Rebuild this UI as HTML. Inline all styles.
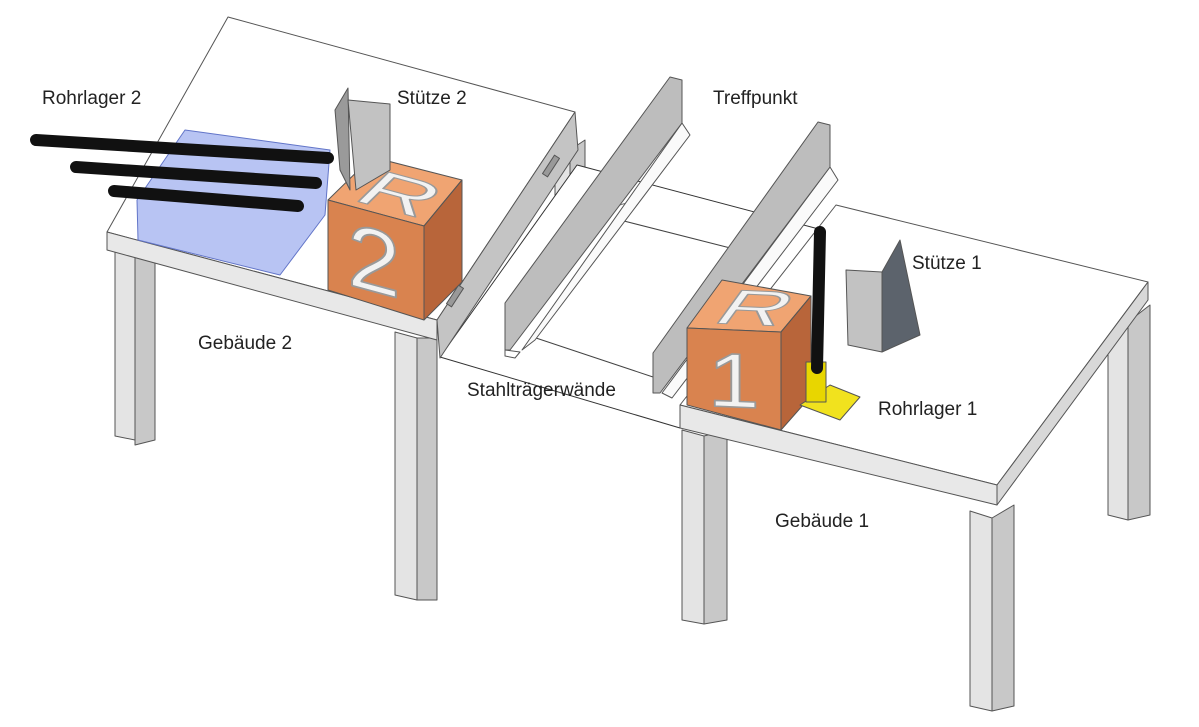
<!DOCTYPE html>
<html><head><meta charset="utf-8"><style>
html,body{margin:0;padding:0;background:#fff;width:1199px;height:727px;overflow:hidden}
svg{display:block}
text{font-family:"Liberation Sans",sans-serif;font-size:19px;fill:#222}
.big{font-size:100px;fill:#f2f2f2;stroke:#999;stroke-width:2}
</style></head><body>
<svg width="1199" height="727" viewBox="0 0 1199 727" xmlns="http://www.w3.org/2000/svg" stroke-linejoin="round">
<g stroke="#555" stroke-width="1">
<!-- Table 2 legs -->
<polygon points="115,250 135,255 135,440 115,436" fill="#e4e4e4"/>
<polygon points="135,255 155,250 155,440 135,445" fill="#c8c8c8"/>
<polygon points="555,150 570,150 570,345 555,348" fill="#e4e4e4"/>
<polygon points="570,150 585,140 585,340 570,345" fill="#c8c8c8"/>
<polygon points="395,332 417,338 417,600 395,595" fill="#e4e4e4"/>
<polygon points="417,338 437,338 437,600 417,600" fill="#c8c8c8"/>
<!-- bridge plate -->
<polygon points="440,357 577,165 830,232 690,410 680,428" fill="#fff" stroke="#333"/>
<polyline points="620,220 533,337 653,377" fill="none" stroke="#444"/>
<line x1="620" y1="220" x2="750" y2="253" stroke="#444"/>
<polyline points="600,178 585,215 630,202" fill="none" stroke="#777"/>
<!-- table 2 top -->
<polygon points="228,17 575,112 437,320 107,232" fill="#fff"/>
<polygon points="107,232 437,320 437,340 107,250" fill="#e8e8e8"/>
<polygon points="437,320 575,112 578,150 440,358" fill="#c4c4c4"/>
<rect x="452" y="285" width="6" height="22" fill="#999" transform="rotate(33 455 296)"/>
<rect x="548" y="155" width="6" height="22" fill="#999" transform="rotate(33 551 166)"/>
<!-- Table 1 legs -->
<polygon points="682,430 704,436 704,624 682,620" fill="#e4e4e4"/>
<polygon points="704,436 727,430 727,620 704,624" fill="#c8c8c8"/>
<polygon points="1108,315 1128,322 1128,520 1108,515" fill="#e4e4e4"/>
<polygon points="1128,322 1150,305 1150,515 1128,520" fill="#c8c8c8"/>
<polygon points="970,511 992,518 992,711 970,706" fill="#e4e4e4"/>
<polygon points="992,518 1014,505 1014,706 992,711" fill="#c8c8c8"/>
<!-- table 1 top -->
<polygon points="836,205 1148,282 997,485 680,405" fill="#fff"/>
<polygon points="680,405 997,485 997,505 680,428" fill="#e8e8e8"/>
<polygon points="997,485 1148,282 1148,300 997,505" fill="#d8d8d8"/>
<!-- walls -->
<polygon points="682,123 690,135 535,340 522,350" fill="#fafafa"/>
<polygon points="670,77 682,80 682,123 510,350 505,350 505,303" fill="#bdbdbd"/>
<polygon points="505,350 520,352 515,358 505,356" fill="#fff"/>
<polygon points="830,167 838,180 672,398 662,393" fill="#fafafa"/>
<polygon points="818,122 830,125 830,167 660,393 653,393 653,353" fill="#bdbdbd"/>
<!-- R2 box -->
<polygon points="328,200 372,157 462,180 424,226" fill="#f0a472"/>
<polygon points="328,200 424,226 424,320 328,290" fill="#d9834f"/>
<polygon points="424,226 462,180 462,282 424,320" fill="#b8653a"/>
<!-- R1 box -->
<polygon points="687,328 722,280 811,296 781,332" fill="#f0a472"/>
<polygon points="687,328 781,332 781,430 687,405" fill="#d9834f"/>
<polygon points="781,332 811,296 811,396 781,430" fill="#b8653a"/>
<!-- Stütze 2 -->
<polygon points="335,110 348,88 350,190 340,170" fill="#9a9a9a"/>
<polygon points="348,100 390,104 390,170 356,190" fill="#c2c2c2"/>
<!-- Stütze 1 -->
<polygon points="846,270 882,272 882,352 848,345" fill="#c2c2c2"/>
<polygon points="882,272 900,240 920,335 882,352" fill="#5c636c"/>
<!-- yellow base -->
<polygon points="800,405 830,385 860,397 840,420" fill="#f1e21e"/>
<rect x="806" y="362" width="20" height="40" fill="#e8d600"/>
</g>
<!-- letters -->
<text class="big" transform="matrix(0.96,0.26,-0.44,0.43,372,157)" x="18" y="88">R</text>
<text class="big" transform="matrix(0.96,0.26,0,0.9,328,200)" x="20" y="88">2</text>
<text class="big" transform="matrix(0.94,0.04,-0.35,0.48,722,280)" x="20" y="88">R</text>
<text class="big" transform="matrix(0.94,0.04,0,0.77,687,328)" x="22" y="100">1</text>
<!-- blue acrylic -->
<polygon points="137,200 185,130 330,150 325,215 280,275 138,240" fill="#9aabee" fill-opacity="0.7" stroke="#6275c8"/>
<!-- pipes -->
<g stroke="#111" stroke-width="12" stroke-linecap="round">
<line x1="36" y1="140" x2="328" y2="158"/>
<line x1="76" y1="167" x2="316" y2="183"/>
<line x1="114" y1="191" x2="298" y2="206"/>
<line x1="820" y1="232" x2="817" y2="368"/>
</g>
<text x="42" y="104">Rohrlager 2</text>
<text x="397" y="104">Stütze 2</text>
<text x="713" y="104">Treffpunkt</text>
<text x="912" y="269">Stütze 1</text>
<text x="198" y="349">Gebäude 2</text>
<text x="467" y="396">Stahlträgerwände</text>
<text x="878" y="415">Rohrlager 1</text>
<text x="775" y="527">Gebäude 1</text>
</svg>
</body></html>
